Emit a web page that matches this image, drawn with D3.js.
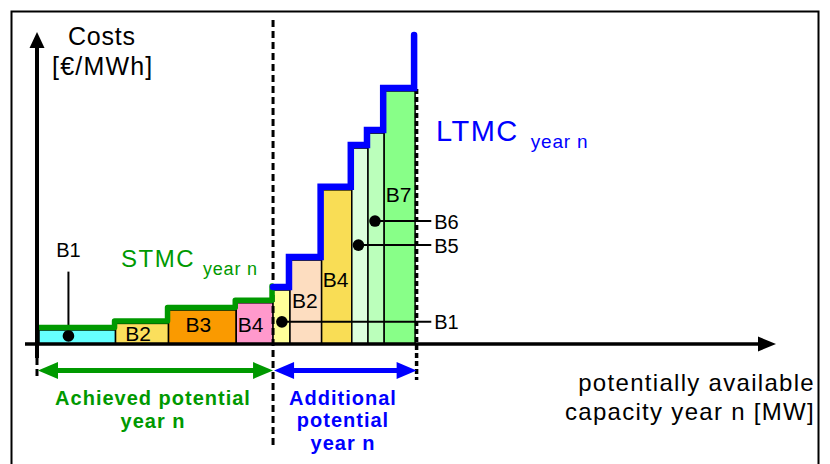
<!DOCTYPE html>
<html><head><meta charset="utf-8">
<script src="https://cdn.jsdelivr.net/npm/d3@7"></script>
<style>body{margin:0;background:#fff}</style>
</head><body>
<svg id="c" width="830" height="464"></svg>
<script>
// ---------- data ----------
const achievedLabels = ["B1", "B2", "B3", "B4"];
const achievedEnd = [10.4, 17.6, 26.8, 31.8];          // cumulative capacity
const achievedCost = [4.5, 6.6, 10.9, 13.2];           // cost level
const additionalLabels = ["B1", "B2", "B4", "B5", "B6", "B7"];
const additionalEnd = [34.1, 38.4, 42.5, 44.7, 46.9, 51.1];
const additionalCost = [17.3, 26.9, 49.4, 62.8, 67.6, 81.1];
const ltmcMax = 99;
const achievedColors = ["#66FFFF", "#FBDF5C", "#FA9A00", "#FF99CC"];
const additionalColors = ["#FFFF99", "#FDDDC0", "#F9DD55", "#DDFFDD", "#BBFFBB", "#88FF88"];
// inline labels (index of bar, label level)
const achievedInline = [1, 2, 3];
const achievedInlineLevel = [0.9, 3.7, 3.9];
const additionalInline = [1, 2, 5];
const additionalInlineLevel = [11.6, 18.4, 45.4];
// callout labels: [capacity of dot, cost of dot]
const achievedCallout = {label: "B1", x: 4.0, y: 2.6, top: 23.2};
const additionalCalloutLabels = ["B1", "B5", "B6"];
const additionalCalloutX = [33.0, 43.4, 45.65];
const additionalCalloutY = [7.1, 31.7, 39.4];
const calloutEnd = 53.3;

const FONT = "'Liberation Sans', Arial, sans-serif";
const GREEN = "#009900", BLUE = "#0000FF";

const svg = d3.select("#c");
const x = d3.scaleLinear().domain([0, 100]).range([39, 775]);
const y = d3.scaleLinear().domain([0, 100]).range([344, 32]);

// border
svg.append("rect").attr("x", 11.5).attr("y", 11.5).attr("width", 807).attr("height", 470)
  .attr("fill", "none").attr("stroke", "#000").attr("stroke-width", 2);

// bars
const achStart = [0].concat(achievedEnd.slice(0, -1));
const addStart = [achievedEnd[achievedEnd.length - 1]].concat(additionalEnd.slice(0, -1));
const bars = achievedLabels.map((l, i) => ({s: achStart[i], e: achievedEnd[i], c: achievedCost[i], col: achievedColors[i]}))
  .concat(additionalLabels.map((l, i) => ({s: addStart[i], e: additionalEnd[i], c: additionalCost[i], col: additionalColors[i]})));
svg.append("g").selectAll("rect").data(bars).join("rect")
  .attr("x", d => x(d.s)).attr("y", d => y(d.c))
  .attr("width", d => x(d.e) - x(d.s)).attr("height", d => y(0) - y(d.c))
  .attr("fill", d => d.col).attr("stroke", "#000").attr("stroke-width", 1.5);

// dashed separators
const xSep = x(achievedEnd[achievedEnd.length - 1]);
const xEnd = x(additionalEnd[additionalEnd.length - 1]) + 1.5;
svg.append("line").attr("x1", xSep).attr("x2", xSep).attr("y1", 20).attr("y2", 448)
  .attr("stroke", "#000").attr("stroke-width", 3).attr("stroke-dasharray", "7,4");
svg.append("line").attr("x1", xEnd).attr("x2", xEnd).attr("y1", y(additionalCost[5]) - 2).attr("y2", 380)
  .attr("stroke", "#000").attr("stroke-width", 3.5).attr("stroke-dasharray", "5,3");
svg.append("line").attr("x1", x(0) - 2).attr("x2", x(0) - 2).attr("y1", 358).attr("y2", 380)
  .attr("stroke", "#000").attr("stroke-width", 3).attr("stroke-dasharray", "7,4");

// callouts (additional)
const cg = svg.append("g");
additionalCalloutLabels.forEach((l, i) => {
  cg.append("line").attr("x1", x(additionalCalloutX[i])).attr("x2", x(calloutEnd))
    .attr("y1", y(additionalCalloutY[i])).attr("y2", y(additionalCalloutY[i]))
    .attr("stroke", "#000").attr("stroke-width", 2);
  cg.append("circle").attr("cx", x(additionalCalloutX[i])).attr("cy", y(additionalCalloutY[i])).attr("r", 5.8).attr("fill", "#000");
  cg.append("text").attr("x", x(calloutEnd) + 3).attr("y", y(additionalCalloutY[i]) + 7.5)
    .attr("font-family", FONT).attr("font-size", 20).text(l);
});
// callout achieved B1
cg.append("line").attr("x1", x(achievedCallout.x)).attr("x2", x(achievedCallout.x))
  .attr("y1", y(achievedCallout.top)).attr("y2", y(achievedCallout.y))
  .attr("stroke", "#000").attr("stroke-width", 2);
cg.append("circle").attr("cx", x(achievedCallout.x)).attr("cy", y(achievedCallout.y)).attr("r", 5.8).attr("fill", "#000");
cg.append("text").attr("x", x(achievedCallout.x)).attr("y", y(achievedCallout.top) - 15)
  .attr("text-anchor", "middle").attr("font-family", FONT).attr("font-size", 20).text(achievedCallout.label);

// inline labels
achievedInline.forEach((bi, k) => {
  svg.append("text").attr("x", (x(achStart[bi]) + x(achievedEnd[bi])) / 2 - 4).attr("y", y(achievedInlineLevel[k]))
    .attr("text-anchor", "middle").attr("font-family", FONT).attr("font-size", 21).text(achievedLabels[bi]);
});
additionalInline.forEach((bi, k) => {
  svg.append("text").attr("x", (x(addStart[bi]) + x(additionalEnd[bi])) / 2 - 1).attr("y", y(additionalInlineLevel[k]))
    .attr("text-anchor", "middle").attr("font-family", FONT).attr("font-size", 21).text(additionalLabels[bi]);
});

// STMC line
const stmc = [[x(0) - 1, y(achievedCost[0]) - 2.5]];
achievedEnd.forEach((e, i) => {
  stmc.push([x(e) - 1, y(achievedCost[i]) - 2.5]);
  const next = i < achievedEnd.length - 1 ? y(achievedCost[i + 1]) - 2.5 : y(additionalCost[0]) - 4;
  stmc.push([x(e) - 1, next]);
});
svg.append("path").attr("d", d3.line()(stmc)).attr("fill", "none").attr("stroke", GREEN)
  .attr("stroke-width", 5.5).attr("stroke-linejoin", "round").attr("stroke-linecap", "round");

// LTMC line
const ltmc = [[xSep, y(additionalCost[0]) - 3]];
additionalEnd.forEach((e, i) => {
  ltmc.push([x(e) - 1, y(additionalCost[i]) - 3]);
  const next = i < additionalEnd.length - 1 ? y(additionalCost[i + 1]) - 3 : y(ltmcMax);
  ltmc.push([x(e) - 1, next]);
});
svg.append("path").attr("d", d3.line()(ltmc)).attr("fill", "none").attr("stroke", BLUE)
  .attr("stroke-width", 6.5).attr("stroke-linejoin", "miter").attr("stroke-linecap", "round");

// axes
const ax = svg.append("g");
ax.append("line").attr("x1", x(0) - 2).attr("x2", x(0) - 2).attr("y1", 358).attr("y2", y(100) + 14)
  .attr("stroke", "#000").attr("stroke-width", 4);
ax.append("path").attr("d", `M${x(0) - 2},${y(100)} L${x(0) - 9.5},${y(100) + 16} L${x(0) + 5.5},${y(100) + 16} Z`).attr("fill", "#000");
ax.append("line").attr("x1", 25).attr("x2", x(100) - 15).attr("y1", y(0)).attr("y2", y(0))
  .attr("stroke", "#000").attr("stroke-width", 3.5);
ax.append("path").attr("d", `M${x(100) + 1},${y(0)} L${x(100) - 17},${y(0) - 7.5} L${x(100) - 17},${y(0) + 7.5} Z`).attr("fill", "#000");

// double arrows
function dbl(x1, x2, yy, col) {
  const g = svg.append("g");
  g.append("line").attr("x1", x1 + 15).attr("x2", x2 - 15).attr("y1", yy).attr("y2", yy)
    .attr("stroke", col).attr("stroke-width", 5);
  g.append("path").attr("d", `M${x1},${yy} L${x1 + 20},${yy - 8.5} L${x1 + 20},${yy + 8.5} Z`).attr("fill", col);
  g.append("path").attr("d", `M${x2},${yy} L${x2 - 20},${yy - 8.5} L${x2 - 20},${yy + 8.5} Z`).attr("fill", col);
}
dbl(x(0) - 1, xSep, 370.5, GREEN);
dbl(xSep + 1, xEnd, 370.5, BLUE);

// texts
function txt(tx, ty, s, opts) {
  const t = svg.append("text").attr("x", tx).attr("y", ty).attr("font-family", FONT)
    .attr("font-size", opts.size).attr("fill", opts.fill || "#000")
    .attr("text-anchor", opts.anchor || "start");
  if (opts.bold) t.attr("font-weight", "bold");
  if (opts.ls) t.attr("letter-spacing", opts.ls);
  t.text(s);
  return t;
}
txt(68, 45, "Costs", {size: 25, ls: 0.8});
txt(52, 75, "[€/MWh]", {size: 25, ls: 1.2});

const st = txt(121, 266.5, "STMC", {size: 24, ls: 1.5, fill: GREEN});
st.append("tspan").attr("dx", 8).attr("dy", 8.5).attr("font-size", 18).attr("letter-spacing", 0.8).text("year n");
const lt = txt(436, 140.5, "LTMC", {size: 29, ls: 1.5, fill: BLUE});
lt.append("tspan").attr("dx", 12).attr("dy", 7.5).attr("font-size", 19).attr("letter-spacing", 0.8).text("year n");

txt(153, 405, "Achieved potential", {size: 20, bold: true, ls: 1, fill: GREEN, anchor: "middle"});
txt(153, 428, "year n", {size: 20, bold: true, ls: 1, fill: GREEN, anchor: "middle"});
txt(343, 405, "Additional", {size: 20, bold: true, ls: 1, fill: BLUE, anchor: "middle"});
txt(343, 427, "potential", {size: 20, bold: true, ls: 1, fill: BLUE, anchor: "middle"});
txt(343, 450, "year n", {size: 20, bold: true, ls: 1, fill: BLUE, anchor: "middle"});

txt(815, 391, "potentially available", {size: 24, ls: 1.3, anchor: "end"});
txt(815, 420, "capacity year n [MW]", {size: 24, ls: 1.3, anchor: "end"});
</script>
</body></html>
